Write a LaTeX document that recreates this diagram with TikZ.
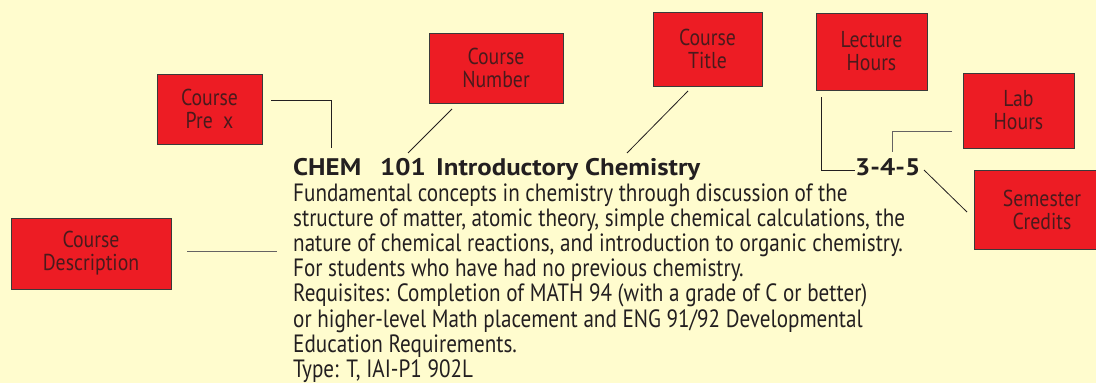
\documentclass[tikz,border=0pt]{standalone}
\usepackage{fontspec}
\setmainfont{PT Sans}
\newfontfamily\bodyfont{PT Sans}[FakeStretch=0.845]
\newfontfamily\boxfont{PT Sans}[FakeStretch=0.86]
\newfontfamily\headfont{PT Sans Bold}[FakeStretch=1.12]
\definecolor{bg}{HTML}{FFFCCE}
\definecolor{boxred}{HTML}{ED1C24}
\definecolor{boxline}{HTML}{3A3A3A}
\definecolor{boxtext}{HTML}{4A1A1C}
\definecolor{ink}{HTML}{231F20}
\begin{document}
\begin{tikzpicture}[x=1pt,y=-1pt,
  lbl/.style={draw=boxline, fill=boxred, line width=0.9pt, inner sep=0pt,
    text=boxtext, align=center, font=\boxfont\fontsize{23}{23}\selectfont},
  conn/.style={draw=ink, line width=0.8pt},
  body/.style={anchor=base west, inner sep=0pt, text=ink, font=\bodyfont\fontsize{25}{25}\selectfont},
  head/.style={anchor=base west, inner sep=0pt, text=ink, font=\headfont\fontsize{24}{25}\selectfont}]
\fill[bg] (0,0) rectangle (1096,383);
\useasboundingbox (0,0) rectangle (1096,383);
% boxes
\node[lbl, minimum width=105pt, minimum height=70pt] (prefix) at (209.5,109) {Course\\Pre\hspace{0.45em}x};
\node[lbl, minimum width=134pt, minimum height=70pt] (number) at (496,68) {Course\\Number};
\node[lbl, minimum width=109pt, minimum height=74pt] (title) at (707.5,49) {Course\\Title};
\node[lbl, minimum width=111pt, minimum height=77pt] (lecture) at (871.5,51.5) {Lecture\\Hours};
\node[lbl, minimum width=111pt, minimum height=75pt] (lab) at (1018.5,110.5) {Lab\\Hours};
\node[lbl, minimum width=136pt, minimum height=79pt] (credits) at (1042,209.5) {Semester\\Credits};
\node[lbl, minimum width=160pt, minimum height=71pt] (desc) at (91,253.5) {Course\\Description};
% heading
\node[head] (chem) at (293,175) {CHEM};
\node[head] (num) at (380,175) {101};
\node[head] (ttl) at (436,175) {Introductory Chemistry};
\node[head] (hrs) at (855,175) {3-4-5};
% body
\node[body] (l1) at (293,201.5) {Fundamental concepts in chemistry through discussion of the};
\node[body] (l2) at (293,226.6) {structure of matter, atomic theory, simple chemical calculations, the};
\node[body] (l3) at (293,251.7) {nature of chemical reactions, and introduction to organic chemistry.};
\node[body] (l4) at (293,276.8) {For students who have had no previous chemistry.};
\node[body] (l5) at (293,301.9) {Requisites: Completion of MATH 94 (with a grade of C or better)};
\node[body] (l6) at (293,327.0) {or higher-level Math placement and ENG 91/92 Developmental};
\node[body] (l7) at (293,352.1) {Education Requirements.};
\node[body] (l8) at (293,377.2) {Type: T, IAI-P1 902L};
% connector end points
\coordinate (pA) at (271,100); \coordinate (pB) at (331,148);
\coordinate (nA) at (452,109); \coordinate (nB) at (408,153);
\coordinate (tA) at (688,91);  \coordinate (tB) at (627,153);
\coordinate (hA) at (821,97);  \coordinate (hB) at (855,170);
\coordinate (bA) at (952,131); \coordinate (bB) at (892,152);
\coordinate (cA) at (924,170); \coordinate (cB) at (967,212);
\coordinate (dA) at (187,251); \coordinate (dB) at (277,251);
\draw[conn] (pA) -| (pB);
\draw[conn] (nA) -- (nB);
\draw[conn] (tA) -- (tB);
\draw[conn] (hA) |- (hB);
\draw[conn, draw=ink!70] (bA) -| (bB);
\draw[conn] (cA) -- (cB);
\draw[conn, draw=ink!70] (dA) -- (dB);
\end{tikzpicture}
\end{document}
